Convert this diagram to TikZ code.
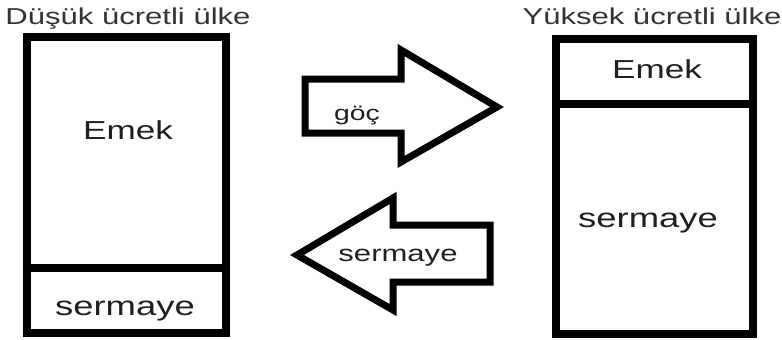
\documentclass[tikz,border=0pt]{standalone}
\usepackage{fontspec}
\setmainfont{Liberation Sans}[FakeStretch=1.35]
\begin{document}
\begin{tikzpicture}[x=1pt,y=-1pt,
  box/.style={draw=black,line width=8pt,rectangle,inner sep=0pt,outer sep=0pt},
  divline/.style={draw=black,line width=8pt},
  arrowshape/.style={draw=black,line width=7pt,line join=miter},
  ttl/.style={anchor=base,inner sep=0pt,text=black!80,font=\fontsize{23}{23}\selectfont},
  lbl/.style={anchor=base,inner sep=0pt,text=black!88},
]
\useasboundingbox (0,0) rectangle (782,340);
% left box
\node[box,minimum width=199pt,minimum height=296pt] (L) at (126.5,185) {};
\coordinate (Ldl) at (L.west |- 0,268);
\coordinate (Ldr) at (L.east |- 0,268);
\draw[divline] ([xshift=-4pt]Ldl) -- ([xshift=4pt]Ldr);
% right box
\node[box,minimum width=197pt,minimum height=295pt] (R) at (654.5,186.5) {};
\coordinate (Rdl) at (R.west |- 0,104);
\coordinate (Rdr) at (R.east |- 0,104);
\draw[divline] ([xshift=-4pt]Rdl) -- ([xshift=4pt]Rdr);
% titles
\node[ttl] (tL) at (128,24) {Düşük ücretli ülke};
\node[ttl] (tR) at (652,24) {Yüksek ücretli ülke};
% box labels
\node[lbl,font=\fontsize{26}{26}\selectfont] (Lemek) at (128,139) {Emek};
\node[lbl,font=\fontsize{27}{27}\selectfont] (Lserm) at (125,315) {sermaye};
\node[lbl,font=\fontsize{26}{26}\selectfont] (Remek) at (657,78) {Emek};
\node[lbl,font=\fontsize{27}{27}\selectfont] (Rserm) at (648,227) {sermaye};
% right arrow (göç)
\coordinate (a1) at (305,79);
\coordinate (a2) at (401,79);
\coordinate (a3) at (401,50);
\coordinate (a4) at (497,107);
\coordinate (a5) at (401,162);
\coordinate (a6) at (401,133);
\coordinate (a7) at (305,133);
\draw[arrowshape] (a1) -- (a2) -- (a3) -- (a4) -- (a5) -- (a6) -- (a7) -- cycle;
\node[lbl,font=\fontsize{21}{21}\selectfont] (goc) at (357,120) {göç};
% left arrow (sermaye)
\coordinate (b1) at (490,225);
\coordinate (b2) at (393,225);
\coordinate (b3) at (393,198);
\coordinate (b4) at (297,255);
\coordinate (b5) at (393,310);
\coordinate (b6) at (393,282);
\coordinate (b7) at (490,282);
\draw[arrowshape] (b1) -- (b2) -- (b3) -- (b4) -- (b5) -- (b6) -- (b7) -- cycle;
\node[lbl,font=\fontsize{23}{23}\selectfont] (aserm) at (398,261) {sermaye};
\end{tikzpicture}
\end{document}
